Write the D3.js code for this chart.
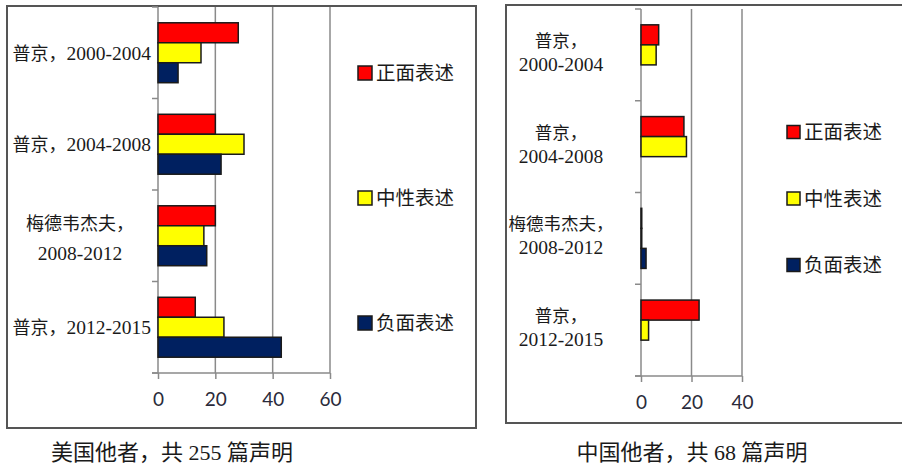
<!DOCTYPE html>
<html>
<head>
<meta charset="utf-8">
<title></title>
<style>
  body { margin: 0; background: #fff; }
  svg { display: block; }
</style>
</head>
<body>
<svg width="902" height="467"></svg>
<script src="https://d3js.org/d3.v7.min.js"></script>
<script type="text/javascript">
// data
const leaders = ["普京", "普京", "梅德韦杰夫", "普京"];
const periods = ["2000-2004", "2004-2008", "2008-2012", "2012-2015"];
const seriesNames = ["正面表述", "中性表述", "负面表述"];
const seriesColors = ["#ff0000", "#ffff00", "#002060"];

const usPositive = [28, 20, 20, 13];
const usNeutral = [15, 30, 16, 23];
const usNegative = [7, 22, 17, 43];
const usTicks = [0, 20, 40, 60];

const cnPositive = [7, 17, 0.3, 23];
const cnNeutral = [6, 18, 0.3, 3];
const cnNegative = [0, 0, 2, 0];
const cnTicks = [0, 20, 40];

const captions = ["美国他者，共 255 篇声明", "中国他者，共 68 篇声明"];

const svg = d3.select("svg");
const serif = "'Liberation Serif', 'Noto Sans CJK SC', serif";

function drawPanel(p) {
    const g = svg.append("g");

    // frame
    g.append("path")
        .attr("d", p.frame)
        .attr("fill", "none")
        .attr("stroke", "#555")
        .attr("stroke-width", 2);

    const x = d3.scaleLinear().domain([0, d3.max(p.ticks)]).range(p.xRange);
    const y = d3.scaleBand().domain(d3.range(periods.length)).range(p.yRange);
    const ySub = d3.scaleBand().domain(d3.range(seriesNames.length))
        .range([0, y.bandwidth()]).paddingOuter(0.79);

    // gridlines
    g.append("g").selectAll("line")
        .data(p.ticks.slice(1))
        .join("line")
        .attr("x1", d => x(d)).attr("x2", d => x(d))
        .attr("y1", p.yRange[0]).attr("y2", p.yRange[1])
        .attr("stroke", "#8a8a8a")
        .attr("stroke-width", 1.5);

    // category axis with ticks on band edges
    const edges = d3.range(periods.length + 1).map(i => p.yRange[0] + i * y.step());
    g.append("line")
        .attr("x1", x(0)).attr("x2", x(0))
        .attr("y1", p.yRange[0]).attr("y2", p.yRange[1])
        .attr("stroke", "#8a8a8a").attr("stroke-width", 1.5);
    g.append("g").selectAll("line")
        .data(edges)
        .join("line")
        .attr("x1", x(0) - 6).attr("x2", x(0))
        .attr("y1", d => d).attr("y2", d => d)
        .attr("stroke", "#8a8a8a").attr("stroke-width", 1.5);

    // value axis
    const xAxis = g.append("g")
        .attr("transform", `translate(0,${p.yRange[1]})`)
        .call(d3.axisBottom(x).tickValues(p.ticks).tickSize(6).tickSizeOuter(0).tickPadding(14));
    xAxis.select(".domain").remove();
    xAxis.append("line")
        .attr("x1", x(0) - 6).attr("x2", x(d3.max(p.ticks)))
        .attr("stroke", "#8a8a8a").attr("stroke-width", 1.5);
    xAxis.selectAll(".tick line").attr("stroke", "#8a8a8a").attr("stroke-width", 1.5);
    xAxis.selectAll(".tick text")
        .attr("font-family", "Lato, 'Liberation Sans', sans-serif")
        .attr("font-size", 19)
        .attr("fill", "#2a2a3a");

    // bars
    p.values.forEach((vals, s) => {
        g.append("g").selectAll("rect")
            .data(vals.map((v, i) => ({ v, i })).filter(d => d.v > 0))
            .join("rect")
            .attr("x", x(0))
            .attr("y", d => y(d.i) + ySub(s))
            .attr("width", d => x(d.v) - x(0))
            .attr("height", ySub.bandwidth())
            .attr("fill", seriesColors[s])
            .attr("stroke", "#1a1a1a")
            .attr("stroke-width", 1.5);
    });

    // category labels (CJK part a bit smaller than the digits, as in the source)
    const labels = g.append("g")
        .attr("font-family", serif)
        .attr("font-size", 19.5)
        .attr("fill", "#1a1a1a");
    periods.forEach((per, i) => {
        const twoLines = p.twoLines(leaders[i]);
        const cy = y(i) + y.bandwidth() / 2;
        if (twoLines) {
            const t = labels.append("text").attr("text-anchor", "middle");
            t.append("tspan")
                .attr("x", p.labelCenter).attr("y", cy + p.lineOffsets[0])
                .attr("font-size", p.cjkSize)
                .text(leaders[i] + "，");
            t.append("tspan")
                .attr("x", p.labelCenter).attr("y", cy + p.lineOffsets[1])
                .text(per);
        } else {
            const t = labels.append("text")
                .attr("text-anchor", "end")
                .attr("x", p.labelRight).attr("y", cy + 7);
            t.append("tspan").attr("font-size", p.cjkSize).text(leaders[i] + "，");
            t.append("tspan").text(per);
        }
    });

    // legend
    const ly = d3.scalePoint().domain(d3.range(seriesNames.length)).range(p.legendY);
    const leg = g.append("g").selectAll("g")
        .data(seriesNames)
        .join("g")
        .attr("transform", (d, i) => `translate(${p.legendX},${ly(i)})`);
    leg.append("rect")
        .attr("x", 0).attr("y", -p.legendBox / 2)
        .attr("width", p.legendBox).attr("height", p.legendBox)
        .attr("fill", (d, i) => seriesColors[i])
        .attr("stroke", "#1a1a1a").attr("stroke-width", 1.5);
    leg.append("text")
        .attr("x", p.legendBox + 4)
        .attr("y", 7)
        .attr("font-family", serif)
        .attr("font-size", 19.5)
        .attr("fill", "#1a1a1a")
        .text(d => d);

    // caption
    g.append("text")
        .attr("x", p.captionX).attr("y", 460)
        .attr("text-anchor", "middle")
        .attr("font-family", serif)
        .attr("font-size", 22)
        .attr("fill", "#1a1a1a")
        .text(p.caption);
}

drawPanel({
    frame: "M7,428V6H476V428Z",
    ticks: usTicks,
    xRange: [158, 330],
    yRange: [7, 373],
    values: [usPositive, usNeutral, usNegative],
    twoLines: name => name.length > 2,
    cjkSize: 18,
    labelRight: 151,
    labelCenter: 80,
    lineOffsets: [-6, 24],
    legendX: 358,
    legendY: [73, 323],
    legendBox: 14,
    captionX: 172,
    caption: captions[0]
});

drawPanel({
    frame: "M506,388V5H904M904,423H506V388",
    ticks: cnTicks,
    xRange: [641, 742],
    yRange: [9, 376],
    values: [cnPositive, cnNeutral, cnNegative],
    twoLines: () => true,
    cjkSize: 17.5,
    labelRight: 620,
    labelCenter: 561,
    lineOffsets: [-8, 16],
    legendX: 787,
    legendY: [132, 265],
    legendBox: 13,
    captionX: 692,
    caption: captions[1]
});
</script>
</body>
</html>
